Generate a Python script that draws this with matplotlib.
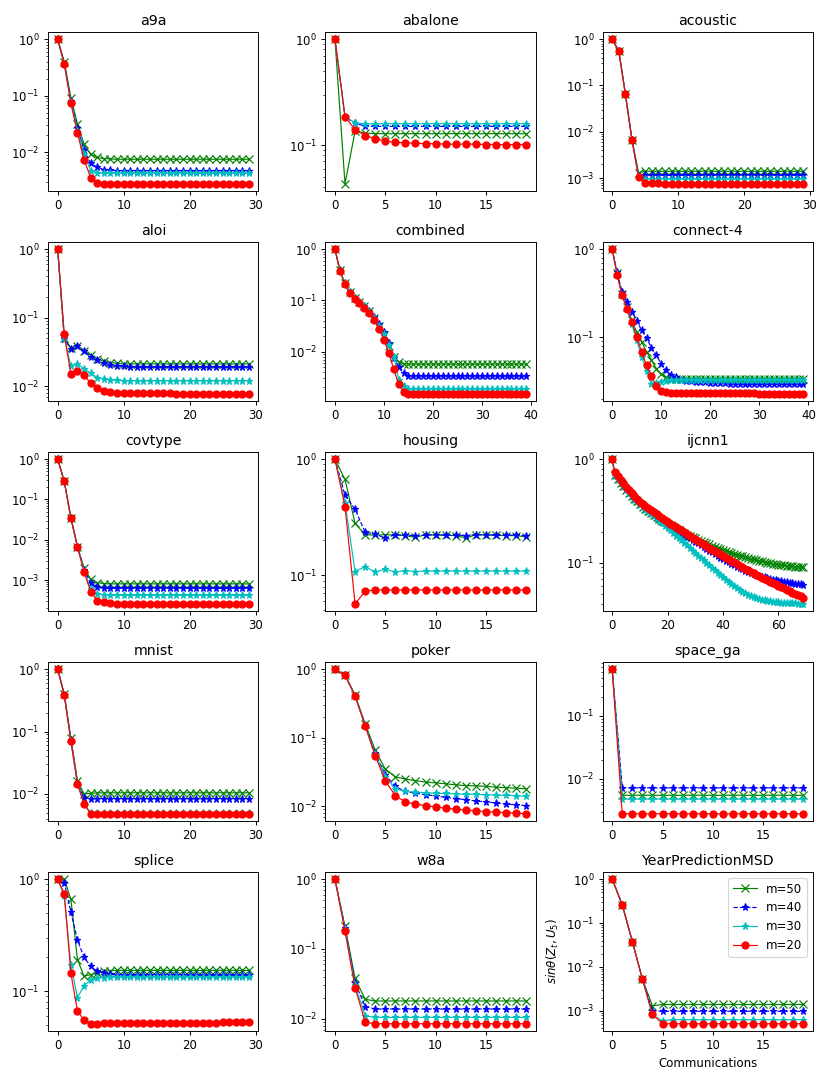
import matplotlib
matplotlib.use("Agg")
import matplotlib.pyplot as plt

# Datasets shown in the grid (left to right, top to bottom)
titles = ["a9a", "abalone", "acoustic", "aloi", "combined", "connect-4",
          "covtype", "housing", "ijcnn1", "mnist", "poker", "space_ga",
          "splice", "w8a", "YearPredictionMSD"]

labels = ["m=50", "m=40", "m=30", "m=20"]

# a9a
a9a_m50 = [1.0, 0.40, 0.093, 0.032, 0.014, 0.0093, 0.0082, 0.0078, 0.0077, 0.0076,
           0.0076, 0.0076, 0.0076, 0.0076, 0.0076, 0.0076, 0.0076, 0.0076, 0.0076, 0.0076,
           0.0076, 0.0076, 0.0076, 0.0076, 0.0076, 0.0076, 0.0076, 0.0076, 0.0076, 0.0076]
a9a_m40 = [1.0, 0.37, 0.082, 0.027, 0.011, 0.0064, 0.0055, 0.0050, 0.0049, 0.0048,
           0.0048, 0.0048, 0.0048, 0.0048, 0.0048, 0.0048, 0.0048, 0.0048, 0.0048, 0.0048,
           0.0048, 0.0048, 0.0048, 0.0048, 0.0048, 0.0048, 0.0048, 0.0048, 0.0048, 0.0048]
a9a_m30 = [1.0, 0.36, 0.078, 0.024, 0.0095, 0.0048, 0.0044, 0.0043, 0.0043, 0.0043,
           0.0043, 0.0043, 0.0043, 0.0043, 0.0043, 0.0043, 0.0043, 0.0043, 0.0043, 0.0043,
           0.0043, 0.0043, 0.0043, 0.0043, 0.0043, 0.0043, 0.0043, 0.0043, 0.0043, 0.0043]
a9a_m20 = [1.0, 0.36, 0.074, 0.022, 0.0074, 0.0036, 0.0029, 0.0028, 0.0028, 0.0028,
           0.0028, 0.0028, 0.0028, 0.0028, 0.0028, 0.0028, 0.0028, 0.0028, 0.0028, 0.0028,
           0.0028, 0.0028, 0.0028, 0.0028, 0.0028, 0.0028, 0.0028, 0.0028, 0.0028, 0.0028]

# abalone
abalone_m50 = [1.0, 0.043, 0.135, 0.130, 0.128, 0.128, 0.128, 0.128, 0.128, 0.128,
               0.128, 0.128, 0.128, 0.128, 0.128, 0.128, 0.128, 0.128, 0.128, 0.128]
abalone_m40 = [1.0, 0.185, 0.160, 0.151, 0.150, 0.150, 0.150, 0.150, 0.150, 0.150,
               0.150, 0.150, 0.150, 0.150, 0.150, 0.150, 0.150, 0.150, 0.150, 0.150]
abalone_m30 = [1.0, 0.185, 0.163, 0.158, 0.159, 0.159, 0.159, 0.159, 0.159, 0.159,
               0.159, 0.159, 0.159, 0.159, 0.159, 0.159, 0.159, 0.159, 0.159, 0.159]
abalone_m20 = [1.0, 0.185, 0.140, 0.123, 0.115, 0.109, 0.106, 0.105, 0.104, 0.103,
               0.103, 0.102, 0.102, 0.102, 0.102, 0.101, 0.101, 0.101, 0.101, 0.101]

# acoustic
acoustic_m50 = [1.0, 0.56, 0.066, 0.0068, 0.0013, 0.0014, 0.0014, 0.0014, 0.0014, 0.0014,
                0.0014, 0.0014, 0.0014, 0.0014, 0.0014, 0.0014, 0.0014, 0.0014, 0.0014, 0.0014,
                0.0014, 0.0014, 0.0014, 0.0014, 0.0014, 0.0014, 0.0014, 0.0014, 0.0014, 0.0014]
acoustic_m40 = [1.0, 0.55, 0.065, 0.0067, 0.0011, 0.00115, 0.00115, 0.00115, 0.00115, 0.00115,
                0.00115, 0.00115, 0.00115, 0.00115, 0.00115, 0.00115, 0.00115, 0.00115, 0.00115, 0.00115,
                0.00115, 0.00115, 0.00115, 0.00115, 0.00115, 0.00115, 0.00115, 0.00115, 0.00115, 0.00115]
acoustic_m30 = [1.0, 0.55, 0.065, 0.0066, 0.00105, 0.00095, 0.00095, 0.00095, 0.00095, 0.00095,
                0.00095, 0.00095, 0.00095, 0.00095, 0.00095, 0.00095, 0.00095, 0.00095, 0.00095, 0.00095,
                0.00095, 0.00095, 0.00095, 0.00095, 0.00095, 0.00095, 0.00095, 0.00095, 0.00095, 0.00095]
acoustic_m20 = [1.0, 0.55, 0.065, 0.0066, 0.00105, 0.00078, 0.00077, 0.00077, 0.00076, 0.00076,
                0.00076, 0.00076, 0.00076, 0.00076, 0.00076, 0.00076, 0.00076, 0.00075, 0.00075, 0.00075,
                0.00075, 0.00075, 0.00075, 0.00075, 0.00075, 0.00075, 0.00075, 0.00075, 0.00075, 0.00075]

# aloi
aloi_m50 = [1.0, 0.050, 0.036, 0.038, 0.033, 0.028, 0.025, 0.023, 0.022, 0.0215,
            0.021, 0.021, 0.021, 0.021, 0.021, 0.021, 0.021, 0.021, 0.021, 0.021,
            0.021, 0.021, 0.021, 0.021, 0.021, 0.021, 0.021, 0.021, 0.021, 0.021]
aloi_m40 = [1.0, 0.049, 0.035, 0.038, 0.032, 0.027, 0.024, 0.0216, 0.0205, 0.0198,
            0.0195, 0.0192, 0.019, 0.019, 0.019, 0.019, 0.019, 0.019, 0.019, 0.019,
            0.019, 0.019, 0.019, 0.019, 0.019, 0.019, 0.019, 0.019, 0.019, 0.019]
aloi_m30 = [1.0, 0.050, 0.0196, 0.021, 0.018, 0.0153, 0.0133, 0.0126, 0.0123, 0.0121,
            0.012, 0.012, 0.012, 0.012, 0.012, 0.012, 0.012, 0.012, 0.012, 0.012,
            0.012, 0.012, 0.012, 0.012, 0.012, 0.012, 0.012, 0.012, 0.012, 0.012]
aloi_m20 = [1.0, 0.057, 0.015, 0.0166, 0.0143, 0.011, 0.0094, 0.0085, 0.0082, 0.0080,
            0.0079, 0.0079, 0.0078, 0.0078, 0.0078, 0.0078, 0.0078, 0.0078, 0.0077, 0.0077,
            0.0077, 0.0077, 0.0077, 0.0077, 0.0077, 0.0077, 0.0077, 0.0077, 0.0077, 0.0077]

# combined
combined_m50 = [1.0, 0.39, 0.22, 0.145, 0.112, 0.093, 0.076, 0.061, 0.045, 0.032,
                0.021, 0.013, 0.0078, 0.0063, 0.0058, 0.0057, 0.0057, 0.0057, 0.0057, 0.0057,
                0.0057, 0.0057, 0.0057, 0.0057, 0.0057, 0.0057, 0.0057, 0.0057, 0.0057, 0.0057,
                0.0057, 0.0057, 0.0057, 0.0057, 0.0057, 0.0057, 0.0057, 0.0057, 0.0057, 0.0057]
combined_m40 = [1.0, 0.39, 0.22, 0.145, 0.112, 0.093, 0.077, 0.062, 0.047, 0.034,
                0.024, 0.015, 0.0076, 0.0050, 0.0038, 0.0034, 0.0034, 0.0034, 0.0034, 0.0034,
                0.0034, 0.0034, 0.0034, 0.0034, 0.0034, 0.0034, 0.0034, 0.0034, 0.0034, 0.0034,
                0.0034, 0.0034, 0.0034, 0.0034, 0.0034, 0.0034, 0.0034, 0.0034, 0.0034, 0.0034]
combined_m30 = [1.0, 0.39, 0.22, 0.145, 0.112, 0.093, 0.076, 0.061, 0.045, 0.032,
                0.022, 0.0135, 0.0080, 0.0028, 0.0021, 0.0019, 0.0019, 0.0019, 0.0019, 0.0019,
                0.0019, 0.0019, 0.0019, 0.0019, 0.0019, 0.0019, 0.0019, 0.0019, 0.0019, 0.0019,
                0.0019, 0.0019, 0.0019, 0.0019, 0.0019, 0.0019, 0.0019, 0.0019, 0.0019, 0.0019]
combined_m20 = [1.0, 0.38, 0.21, 0.14, 0.108, 0.089, 0.072, 0.057, 0.041, 0.028,
                0.017, 0.0092, 0.0045, 0.0023, 0.0016, 0.0015, 0.0015, 0.0015, 0.0015, 0.0015,
                0.0015, 0.0015, 0.0015, 0.0015, 0.0015, 0.0015, 0.0015, 0.0015, 0.0015, 0.0015,
                0.0015, 0.0015, 0.0015, 0.0015, 0.0015, 0.0015, 0.0015, 0.0015, 0.0015, 0.0015]

# connect-4
connect4_m50 = [1.0, 0.53, 0.31, 0.22, 0.155, 0.115, 0.089, 0.068, 0.055, 0.044,
                0.038, 0.035, 0.0338, 0.0335, 0.0335, 0.0335, 0.0335, 0.0335, 0.0335, 0.0335,
                0.0335, 0.0335, 0.0335, 0.0335, 0.0335, 0.0335, 0.0335, 0.0335, 0.0335, 0.0335,
                0.0335, 0.0335, 0.0335, 0.0335, 0.0335, 0.0335, 0.0335, 0.0335, 0.0335, 0.0335]
connect4_m40 = [1.0, 0.55, 0.33, 0.25, 0.194, 0.153, 0.12, 0.097, 0.076, 0.062,
                0.050, 0.042, 0.037, 0.035, 0.033, 0.0318, 0.0315, 0.0313, 0.031, 0.0308,
                0.0305, 0.0303, 0.030, 0.0298, 0.0296, 0.0295, 0.0294, 0.0293, 0.0292, 0.0291,
                0.029, 0.029, 0.029, 0.029, 0.029, 0.029, 0.029, 0.029, 0.029, 0.029]
connect4_m30 = [1.0, 0.52, 0.30, 0.21, 0.14, 0.092, 0.060, 0.041, 0.029, 0.030,
                0.031, 0.0318, 0.0322, 0.0325, 0.0325, 0.0325, 0.0325, 0.0325, 0.0325, 0.0325,
                0.0325, 0.0325, 0.0325, 0.0325, 0.0325, 0.0325, 0.0325, 0.0325, 0.0325, 0.0325,
                0.0325, 0.0324, 0.0324, 0.0323, 0.0323, 0.0323, 0.0322, 0.0322, 0.0322, 0.0322]
connect4_m20 = [1.0, 0.51, 0.30, 0.21, 0.15, 0.10, 0.068, 0.048, 0.036, 0.028,
                0.0247, 0.0237, 0.023, 0.023, 0.023, 0.023, 0.023, 0.023, 0.023, 0.023,
                0.023, 0.023, 0.023, 0.023, 0.023, 0.023, 0.023, 0.023, 0.023, 0.023,
                0.0228, 0.0228, 0.0228, 0.0228, 0.0228, 0.0227, 0.0227, 0.0227, 0.0227, 0.0227]

# covtype
covtype_m50 = [1.0, 0.28, 0.035, 0.0068, 0.0020, 0.00104, 0.00087, 0.00082, 0.00081, 0.00081,
               0.00081, 0.00081, 0.00081, 0.00081, 0.00081, 0.00081, 0.00081, 0.00081, 0.00081, 0.00081,
               0.00081, 0.00081, 0.00081, 0.00081, 0.00081, 0.00081, 0.00081, 0.00081, 0.00081, 0.00081]
covtype_m40 = [1.0, 0.28, 0.035, 0.0067, 0.0018, 0.00085, 0.00068, 0.00064, 0.00063, 0.00063,
               0.00063, 0.00063, 0.00063, 0.00063, 0.00063, 0.00063, 0.00063, 0.00063, 0.00063, 0.00063,
               0.00063, 0.00063, 0.00063, 0.00063, 0.00063, 0.00063, 0.00063, 0.00063, 0.00063, 0.00063]
covtype_m30 = [1.0, 0.28, 0.035, 0.0067, 0.0017, 0.00060, 0.00045, 0.00043, 0.00042, 0.00042,
               0.00042, 0.00042, 0.00042, 0.00042, 0.00042, 0.00042, 0.00042, 0.00042, 0.00042, 0.00042,
               0.00042, 0.00042, 0.00042, 0.00042, 0.00042, 0.00042, 0.00042, 0.00042, 0.00042, 0.00042]
covtype_m20 = [1.0, 0.28, 0.035, 0.0067, 0.0016, 0.00052, 0.00031, 0.00028, 0.00027, 0.00026,
               0.00026, 0.00026, 0.00026, 0.00026, 0.00026, 0.00026, 0.00026, 0.00026, 0.00026, 0.00026,
               0.00026, 0.00026, 0.00026, 0.00026, 0.00026, 0.00026, 0.00026, 0.00026, 0.00026, 0.00026]

# housing
housing_m50 = [1.0, 0.67, 0.28, 0.224, 0.222, 0.224, 0.222, 0.220, 0.212, 0.224,
               0.222, 0.222, 0.220, 0.210, 0.224, 0.222, 0.222, 0.220, 0.220, 0.214]
housing_m40 = [1.0, 0.49, 0.37, 0.235, 0.226, 0.21, 0.224, 0.222, 0.220, 0.222,
               0.224, 0.222, 0.222, 0.220, 0.224, 0.224, 0.222, 0.222, 0.222, 0.220]
housing_m30 = [1.0, 0.42, 0.108, 0.119, 0.107, 0.113, 0.107, 0.110, 0.108, 0.109,
               0.109, 0.109, 0.109, 0.109, 0.109, 0.109, 0.109, 0.109, 0.109, 0.109]
housing_m20 = [1.0, 0.39, 0.057, 0.073, 0.075, 0.075, 0.075, 0.075, 0.075, 0.075,
               0.075, 0.075, 0.075, 0.075, 0.075, 0.075, 0.075, 0.075, 0.075, 0.075]

# ijcnn1
ijcnn1_m50 = [1.0, 0.700, 0.642, 0.592, 0.548, 0.509, 0.474, 0.443, 0.415, 0.390,
              0.367, 0.347, 0.330, 0.314, 0.300, 0.287, 0.275, 0.264, 0.254, 0.245,
              0.236, 0.228, 0.220, 0.213, 0.206, 0.199, 0.193, 0.187, 0.182, 0.177,
              0.172, 0.167, 0.163, 0.158, 0.154, 0.150, 0.146, 0.143, 0.139, 0.136,
              0.133, 0.130, 0.127, 0.124, 0.122, 0.119, 0.117, 0.115, 0.113, 0.111,
              0.109, 0.1075, 0.106, 0.1045, 0.103, 0.1015, 0.100, 0.0990, 0.0980, 0.0970,
              0.0960, 0.0952, 0.0944, 0.0937, 0.0930, 0.0923, 0.0917, 0.0911, 0.0906, 0.0900]
ijcnn1_m40 = [1.0, 0.700, 0.643, 0.593, 0.549, 0.510, 0.475, 0.444, 0.416, 0.391,
              0.368, 0.350, 0.333, 0.318, 0.303, 0.290, 0.277, 0.265, 0.254, 0.244,
              0.235, 0.226, 0.217, 0.209, 0.201, 0.193, 0.186, 0.179, 0.172, 0.166,
              0.160, 0.154, 0.148, 0.142, 0.137, 0.131, 0.126, 0.121, 0.117, 0.112,
              0.108, 0.104, 0.1005, 0.097, 0.094, 0.091, 0.0885, 0.086, 0.0838, 0.0817,
              0.0798, 0.078, 0.0763, 0.0748, 0.0734, 0.0721, 0.0709, 0.0698, 0.0688, 0.0679,
              0.0670, 0.0662, 0.0655, 0.0648, 0.0641, 0.0635, 0.0629, 0.0624, 0.0619, 0.0614]
ijcnn1_m30 = [1.0, 0.690, 0.633, 0.583, 0.539, 0.500, 0.466, 0.435, 0.407, 0.382,
              0.360, 0.342, 0.325, 0.309, 0.294, 0.280, 0.266, 0.253, 0.240, 0.228,
              0.216, 0.205, 0.194, 0.183, 0.173, 0.164, 0.155, 0.147, 0.139, 0.131,
              0.124, 0.117, 0.111, 0.105, 0.0993, 0.0940, 0.0890, 0.0843, 0.0799, 0.0758,
              0.0720, 0.0685, 0.0652, 0.0622, 0.0594, 0.0569, 0.0546, 0.0525, 0.0506, 0.0490,
              0.0476, 0.0464, 0.0454, 0.0446, 0.0439, 0.0433, 0.0428, 0.0424, 0.0420, 0.0417,
              0.0414, 0.0412, 0.0410, 0.0408, 0.0406, 0.0405, 0.0404, 0.0403, 0.0402, 0.0401]
ijcnn1_m20 = [1.0, 0.745, 0.686, 0.632, 0.585, 0.542, 0.504, 0.469, 0.439, 0.411,
              0.387, 0.369, 0.352, 0.337, 0.321, 0.308, 0.294, 0.282, 0.270, 0.259,
              0.249, 0.239, 0.230, 0.221, 0.213, 0.205, 0.197, 0.190, 0.182, 0.175,
              0.169, 0.163, 0.156, 0.151, 0.145, 0.140, 0.134, 0.129, 0.124, 0.120,
              0.116, 0.112, 0.108, 0.104, 0.1005, 0.0970, 0.0938, 0.0906, 0.0875, 0.0847,
              0.0818, 0.0793, 0.0767, 0.0743, 0.0719, 0.0697, 0.0676, 0.0655, 0.0635, 0.0617,
              0.0598, 0.0581, 0.0564, 0.0547, 0.0531, 0.0515, 0.0501, 0.0486, 0.0473, 0.0460]

# mnist
mnist_m50 = [1.0, 0.40, 0.078, 0.016, 0.0100, 0.0102, 0.0104, 0.0104, 0.0104, 0.0104,
             0.0104, 0.0104, 0.0104, 0.0104, 0.0104, 0.0104, 0.0104, 0.0104, 0.0104, 0.0104,
             0.0104, 0.0104, 0.0104, 0.0104, 0.0104, 0.0104, 0.0104, 0.0104, 0.0104, 0.0104]
mnist_m40 = [1.0, 0.39, 0.074, 0.015, 0.0085, 0.0083, 0.0084, 0.0084, 0.0084, 0.0084,
             0.0084, 0.0084, 0.0084, 0.0084, 0.0084, 0.0084, 0.0084, 0.0084, 0.0084, 0.0084,
             0.0084, 0.0084, 0.0084, 0.0084, 0.0084, 0.0084, 0.0084, 0.0084, 0.0084, 0.0084]
mnist_m30 = [1.0, 0.38, 0.071, 0.0145, 0.0070, 0.0050, 0.0050, 0.0050, 0.0050, 0.0050,
             0.0050, 0.0050, 0.0050, 0.0050, 0.0050, 0.0050, 0.0050, 0.0050, 0.0050, 0.0050,
             0.0050, 0.0050, 0.0050, 0.0050, 0.0050, 0.0050, 0.0050, 0.0050, 0.0050, 0.0050]
mnist_m20 = [1.0, 0.38, 0.070, 0.0145, 0.0068, 0.0048, 0.0048, 0.0048, 0.0048, 0.0048,
             0.0048, 0.0048, 0.0048, 0.0048, 0.0048, 0.0048, 0.0048, 0.0048, 0.0048, 0.0048,
             0.0048, 0.0048, 0.0048, 0.0048, 0.0048, 0.0048, 0.0048, 0.0048, 0.0048, 0.0048]

# poker
poker_m50 = [1.0, 0.82, 0.42, 0.16, 0.066, 0.035, 0.027, 0.025, 0.0236, 0.0226,
             0.022, 0.0213, 0.0206, 0.0201, 0.0199, 0.0196, 0.019, 0.0187, 0.0184, 0.018]
poker_m40 = [1.0, 0.82, 0.41, 0.155, 0.059, 0.029, 0.0195, 0.0165, 0.0155, 0.0148,
             0.0142, 0.0135, 0.013, 0.0125, 0.0120, 0.0116, 0.0112, 0.0108, 0.0106, 0.0102]
poker_m30 = [1.0, 0.81, 0.41, 0.152, 0.057, 0.027, 0.018, 0.0165, 0.016, 0.0158,
             0.0155, 0.0154, 0.0152, 0.015, 0.0149, 0.0148, 0.0145, 0.0145, 0.0143, 0.014]
poker_m20 = [1.0, 0.81, 0.41, 0.148, 0.055, 0.0235, 0.0143, 0.0116, 0.0108, 0.0102,
             0.0098, 0.0094, 0.0091, 0.0088, 0.0086, 0.0084, 0.0082, 0.0081, 0.0080, 0.0078]

# space_ga
space_ga_m50 = [0.55, 0.0055, 0.0055, 0.0055, 0.0055, 0.0055, 0.0055, 0.0055, 0.0055, 0.0055,
                0.0055, 0.0055, 0.0055, 0.0055, 0.0055, 0.0055, 0.0055, 0.0055, 0.0055, 0.0055]
space_ga_m40 = [0.55, 0.0072, 0.0072, 0.0072, 0.0072, 0.0072, 0.0072, 0.0072, 0.0072, 0.0072,
                0.0072, 0.0072, 0.0072, 0.0072, 0.0072, 0.0072, 0.0072, 0.0072, 0.0072, 0.0072]
space_ga_m30 = [0.55, 0.0048, 0.0048, 0.0048, 0.0048, 0.0048, 0.0048, 0.0048, 0.0048, 0.0048,
                0.0048, 0.0048, 0.0048, 0.0048, 0.0048, 0.0048, 0.0048, 0.0048, 0.0048, 0.0048]
space_ga_m20 = [0.55, 0.0028, 0.0028, 0.0028, 0.0028, 0.0028, 0.0028, 0.0028, 0.0028, 0.0028,
                0.0028, 0.0028, 0.0028, 0.0028, 0.0028, 0.0028, 0.0028, 0.0028, 0.0028, 0.0028]

# splice
splice_m50 = [1.0, 1.0, 0.66, 0.19, 0.136, 0.14, 0.145, 0.150, 0.152, 0.153,
              0.153, 0.153, 0.153, 0.153, 0.153, 0.153, 0.153, 0.153, 0.153, 0.153,
              0.153, 0.153, 0.153, 0.153, 0.153, 0.153, 0.153, 0.153, 0.153, 0.153]
splice_m40 = [1.0, 0.93, 0.51, 0.285, 0.20, 0.166, 0.150, 0.146, 0.142, 0.140,
              0.139, 0.138, 0.138, 0.138, 0.138, 0.138, 0.138, 0.138, 0.138, 0.138,
              0.138, 0.138, 0.138, 0.138, 0.138, 0.138, 0.138, 0.138, 0.138, 0.138]
splice_m30 = [1.0, 0.70, 0.17, 0.087, 0.112, 0.125, 0.130, 0.132, 0.133, 0.133,
              0.133, 0.133, 0.133, 0.133, 0.133, 0.133, 0.133, 0.133, 0.133, 0.133,
              0.133, 0.133, 0.133, 0.133, 0.133, 0.133, 0.133, 0.133, 0.133, 0.133]
splice_m20 = [1.0, 0.74, 0.144, 0.066, 0.055, 0.051, 0.051, 0.052, 0.052, 0.052,
              0.052, 0.052, 0.052, 0.052, 0.052, 0.052, 0.052, 0.052, 0.052, 0.052,
              0.052, 0.052, 0.052, 0.052, 0.052, 0.0525, 0.0525, 0.0525, 0.0525, 0.0525]

# w8a
w8a_m50 = [1.0, 0.21, 0.038, 0.019, 0.018, 0.018, 0.018, 0.018, 0.018, 0.018,
           0.018, 0.018, 0.018, 0.018, 0.018, 0.018, 0.018, 0.018, 0.018, 0.018]
w8a_m40 = [1.0, 0.20, 0.033, 0.015, 0.0138, 0.0138, 0.0138, 0.0138, 0.0138, 0.0138,
           0.0138, 0.0138, 0.0138, 0.0138, 0.0138, 0.0138, 0.0138, 0.0138, 0.0138, 0.0138]
w8a_m30 = [1.0, 0.19, 0.030, 0.011, 0.0105, 0.0105, 0.0105, 0.0105, 0.0105, 0.0105,
           0.0105, 0.0105, 0.0105, 0.0105, 0.0105, 0.0105, 0.0105, 0.0105, 0.0105, 0.0105]
w8a_m20 = [1.0, 0.18, 0.028, 0.009, 0.0085, 0.0085, 0.0085, 0.0085, 0.0085, 0.0085,
           0.0085, 0.0085, 0.0085, 0.0085, 0.0085, 0.0085, 0.0085, 0.0085, 0.0085, 0.0085]

# YearPredictionMSD
year_m50 = [1.0, 0.26, 0.038, 0.0053, 0.0013, 0.0014, 0.0014, 0.0014, 0.0014, 0.0014,
            0.0014, 0.0014, 0.0014, 0.0014, 0.0014, 0.0014, 0.0014, 0.0014, 0.0014, 0.0014]
year_m40 = [1.0, 0.26, 0.038, 0.0053, 0.0010, 0.00098, 0.00098, 0.00098, 0.00098, 0.00098,
            0.00098, 0.00098, 0.00098, 0.00098, 0.00098, 0.00098, 0.00098, 0.00098, 0.00098, 0.00098]
year_m30 = [1.0, 0.26, 0.038, 0.0053, 0.0008, 0.00060, 0.00063, 0.00063, 0.00063, 0.00063,
            0.00063, 0.00063, 0.00063, 0.00063, 0.00063, 0.00063, 0.00063, 0.00063, 0.00063, 0.00063]
year_m20 = [1.0, 0.26, 0.038, 0.0053, 0.00084, 0.00051, 0.00051, 0.00051, 0.00051, 0.00051,
            0.00051, 0.00051, 0.00051, 0.00051, 0.00051, 0.00051, 0.00051, 0.00051, 0.00051, 0.00051]

series = [
    [a9a_m50, a9a_m40, a9a_m30, a9a_m20],
    [abalone_m50, abalone_m40, abalone_m30, abalone_m20],
    [acoustic_m50, acoustic_m40, acoustic_m30, acoustic_m20],
    [aloi_m50, aloi_m40, aloi_m30, aloi_m20],
    [combined_m50, combined_m40, combined_m30, combined_m20],
    [connect4_m50, connect4_m40, connect4_m30, connect4_m20],
    [covtype_m50, covtype_m40, covtype_m30, covtype_m20],
    [housing_m50, housing_m40, housing_m30, housing_m20],
    [ijcnn1_m50, ijcnn1_m40, ijcnn1_m30, ijcnn1_m20],
    [mnist_m50, mnist_m40, mnist_m30, mnist_m20],
    [poker_m50, poker_m40, poker_m30, poker_m20],
    [space_ga_m50, space_ga_m40, space_ga_m30, space_ga_m20],
    [splice_m50, splice_m40, splice_m30, splice_m20],
    [w8a_m50, w8a_m40, w8a_m30, w8a_m20],
    [year_m50, year_m40, year_m30, year_m20],
]

# line style for each m
styles = ["gx-", "b*--", "c*-", "ro-"]


def main():
    plt.rcParams["lines.linewidth"] = 1.0

    fig, axes = plt.subplots(5, 3, figsize=(830 / 85, 1080 / 85), dpi=85)
    fig.subplots_adjust(left=0.058, right=0.9795, top=0.9704, bottom=0.0454,
                        wspace=0.318, hspace=0.32)

    for ax, title, data in zip(axes.flat, titles, series):
        for values, style, label in zip(data, styles, labels):
            ax.plot(range(len(values)), values, style, label=label)
        ax.set_yscale("log")
        ax.set_title(title)

    # Labels and legend only on the last panel
    last = axes.flat[-1]
    last.set_xlabel("Communications")
    last.set_ylabel(r"$sin\theta(Z_t, U_5)$")
    last.legend(loc="upper right")

    fig.savefig("out.png", dpi=85)


if __name__ == "__main__":
    main()
